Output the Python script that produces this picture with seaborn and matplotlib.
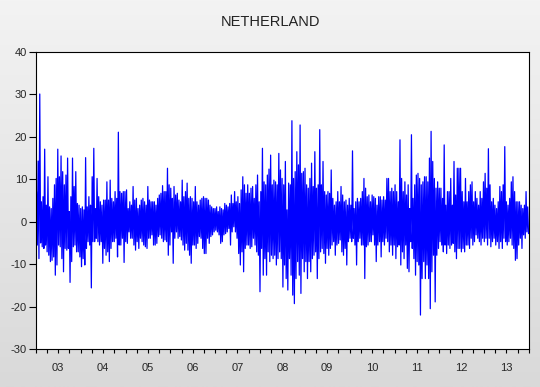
import numpy as np
import pandas as pd
import matplotlib
matplotlib.use('Agg')
import matplotlib.pyplot as plt
from matplotlib.colors import LinearSegmentedColormap
import seaborn as sns

# --- Data (upper / lower swing of each short stretch) ---
title = 'NETHERLAND'
start_date = '2003-01-05'
end_date = '2013-12-28'
year_labels = ['03', '04', '05', '06', '07', '08', '09', '10', '11', '12', '13']
y_ticks = [-30, -20, -10, 0, 10, 20, 30, 40]

highs = [
    7.1, 14.3, 30.1, 4.7, 5.9, 17.1, 3.9, 10.6, 3.5, 3.1, 5.5, 8.7, 10.2, 17.1, 10.6, 15.5, 11.8,
    8.7, 11.0, 15.0, 2.4, 5.9, 15.0, 8.3, 11.8, 4.3, 3.9, 3.1, 3.5, 2.8, 15.1, 3.5, 5.9, 3.9,
    10.6, 17.3, 3.1, 10.2, 5.9, 4.7, 3.9, 5.1, 5.1, 9.4, 5.1, 9.8, 5.5, 4.7, 7.1,
    5.5, 21.1, 7.1, 6.7, 7.1, 7.1, 7.5, 3.1, 4.7, 3.9, 8.3, 5.1, 5.5, 3.1, 3.9, 5.1, 5.5, 4.7,
    3.9, 8.3, 5.1, 4.7, 4.7, 4.7, 3.9, 5.5, 6.3, 6.7, 8.5, 7.1, 7.1, 12.6, 8.7, 7.9, 5.5, 8.3,
    6.3, 6.7, 5.1, 4.7, 9.8, 5.9, 7.1, 9.1, 5.5, 5.9, 5.5, 4.7, 8.3, 4.7, 3.9, 5.1, 5.5, 5.9,
    5.5, 5.5, 5.1, 3.9, 3.5, 3.1, 3.1, 3.5, 2.4, 3.5, 3.1, 2.8, 4.3, 3.9, 3.5, 4.3, 6.3, 4.3,
    7.1, 4.7, 5.9, 4.3, 7.5, 10.6, 8.7, 6.7, 8.7, 6.7, 7.9, 8.3, 5.5, 8.7, 11.0, 4.7, 7.1, 17.3,
    9.4, 8.7, 11.0, 12.4, 15.7, 8.7, 9.8, 9.4, 8.7, 16.1, 12.2, 10.2, 8.7,
    14.2, 2.8, 9.1, 8.7, 23.8, 10.2, 11.8, 16.5, 13.4, 22.8, 11.4, 11.8, 12.6, 8.7, 7.9, 10.2,
    13.8, 8.3, 16.5, 7.9, 8.7, 21.7, 8.7, 14.2, 7.1, 6.3, 7.1, 6.7, 12.2, 5.5, 3.9, 4.7, 7.1,
    4.7, 8.3, 6.3, 4.7, 5.1, 3.9, 5.5, 3.9, 16.7, 3.1, 4.7, 5.5, 4.7, 5.5, 7.1, 10.2, 7.9, 5.9,
    6.3, 4.7, 6.3,
    5.9, 5.5, 3.9, 5.9, 5.9, 5.1, 5.9, 5.1, 10.2, 10.2, 7.1, 7.9, 7.1, 8.7, 7.1, 4.7, 19.3, 10.2,
    7.1, 9.4, 6.3, 8.7, 3.1, 20.5, 5.5, 8.7, 11.0, 11.4, 10.2, 8.7, 9.4, 10.6, 10.6, 9.4, 15.0,
    21.3, 14.2, 10.2, 7.9, 9.4, 7.9, 7.9, 5.5, 18.1, 3.9, 7.1, 7.1, 10.2, 3.9, 14.2, 6.3, 12.6,
    12.6,
    12.6, 7.1, 4.7, 10.2, 4.7, 7.1, 8.7, 9.4, 4.7, 7.1, 5.5, 3.9, 7.1, 5.5, 9.4, 11.4, 7.9, 17.2,
    8.7, 4.7, 5.5, 3.9, 3.1, 4.7, 8.3, 7.1, 8.7, 17.7, 4.7, 3.9, 5.5, 9.4, 10.6, 7.1, 4.7, 4.7,
    4.7, 3.9, 3.1, 3.9, 7.1, 3.5,
]

lows = [
    -5.5, -8.7, -5.0, -5.9, -6.3, -5.5, -7.1, -7.9, -9.4, -9.1, -8.3, -12.6, -10.2, -5.5, -5.9,
    -8.7, -11.8, -6.3, -6.7, -6.3, -14.3, -9.4, -5.9, -5.5, -7.1, -7.1, -8.3, -10.6, -8.7, -10.2,
    -6.3, -4.7, -5.5, -15.6, -4.7, -4.7, -3.9, -4.7, -5.5, -4.7, -9.8, -6.3, -7.9, -7.1, -9.4,
    -6.3, -4.7, -4.7, -3.9,
    -8.3, -5.5, -5.5, -3.9, -9.6, -4.7, -5.1, -2.4, -3.9, -3.9, -5.5, -6.7, -4.7, -6.3, -3.9,
    -4.7, -5.5, -5.9, -6.3, -3.9, -3.9, -3.1, -5.5, -5.5, -5.1, -3.5, -3.1, -3.9, -4.7, -4.3,
    -4.7, -7.9, -5.5, -2.4, -9.8, -3.9, -2.4, -3.9, -3.5, -4.3, -5.5, -6.7, -5.1, -6.7, -7.9,
    -9.8, -5.5, -5.5, -6.3, -5.1, -3.5, -3.9, -6.3, -7.5,
    -7.5, -3.9, -5.1, -3.5, -3.1, -2.4, -2.0, -2.4, -3.1, -5.1, -4.7, -3.1, -2.8, -2.4, -1.6,
    -5.5, -2.4, -1.2, -2.4, -3.9, -7.5, -10.2, -7.1, -11.8, -6.3, -5.5, -5.5, -6.3, -5.9, -3.9,
    -5.5, -7.1, -7.9, -16.5, -6.3, -12.6, -8.7, -12.6, -7.1, -9.4, -7.9, -8.7, -7.9, -10.2,
    -8.7, -7.1, -8.7, -15.4, -10.2,
    -13.4, -16.1, -8.7, -12.6, -17.3, -19.3, -13.4, -9.4, -12.6, -16.9, -8.7, -11.8, -9.4,
    -13.4, -9.4, -11.8, -8.7, -7.9, -7.1, -13.4, -8.7, -7.1, -6.3, -7.5, -9.8, -6.3, -7.9,
    -6.3, -5.5, -4.7, -7.9, -5.5, -5.1, -4.3, -7.1, -7.9, -6.3, -10.2, -4.7, -3.9, -4.7, -3.9,
    -5.5, -10.2, -4.7, -3.9, -5.5, -5.5, -13.4, -5.9, -5.5, -4.7, -4.7, -3.1,
    -5.5, -9.4, -5.5, -4.7, -8.3, -4.7, -5.5, -3.9, -4.7, -7.1, -5.5, -7.9, -5.5, -8.7, -5.9,
    -5.5, -10.2, -7.1, -8.7, -5.5, -11.0, -11.8, -4.7, -6.3, -8.7, -12.6, -9.4, -10.2, -22.0,
    -13.4, -9.4, -13.4, -10.2, -13.4, -20.5, -11.8, -7.9, -18.9, -7.9, -6.3, -4.7, -5.5, -7.1,
    -5.5, -7.5, -5.5, -6.3, -5.5, -5.1, -7.1, -8.7, -6.3, -6.3,
    -7.1, -6.3, -7.1, -5.5, -5.5, -6.3, -3.9, -5.5, -4.7, -3.1, -3.9, -4.7, -5.5, -3.9, -4.7,
    -3.9, -5.5, -3.9, -5.9, -4.7, -3.9, -5.5, -4.7, -6.3, -4.7, -6.3, -3.9, -4.7, -5.5, -4.7,
    -3.9, -5.5, -6.3, -9.1, -8.7, -5.5, -3.9, -6.3, -3.1, -3.9, -2.4, -2.8,
]

n = min(len(highs), len(lows))

# interleave the swings into one series
values = np.empty(2 * n)
values[0::2] = highs[:n]
values[1::2] = lows[:n]
dates = pd.date_range(start_date, end_date, periods=len(values))
df = pd.DataFrame({'date': dates, 'value': values})

# --- Plot ---
sns.set_style('white')
plt.rcParams['font.family'] = ['Liberation Sans', 'DejaVu Sans']

fig = plt.figure(figsize=(5.4, 3.87), dpi=100)

# grey gradient behind everything
bg = fig.add_axes([0, 0, 1, 1], zorder=-10)
grad = np.linspace(0, 1, 256).reshape(-1, 1)
cmap = LinearSegmentedColormap.from_list('bg', ['#f3f3f3', '#d9d9d9'])
bg.imshow(grad, aspect='auto', cmap=cmap, extent=[0, 1, 0, 1], origin='upper')
bg.axis('off')

ax = fig.add_axes([36 / 540, 38 / 387, 493 / 540, 297 / 387])
ax.set_facecolor('white')
sns.lineplot(data=df, x='date', y='value', color='#0000ff', linewidth=0.9,
             estimator=None, sort=False, ax=ax)

ax.set_xlim(pd.Timestamp('2003-01-01'), pd.Timestamp('2014-01-01'))
ax.set_ylim(-30, 40)
ax.set_xlabel('')
ax.set_ylabel('')

ax.set_yticks(y_ticks)
ax.set_yticklabels([str(v) for v in y_ticks])

years = [2000 + int(l) for l in year_labels]
ax.set_xticks(pd.to_datetime([f'{y}-07-01' for y in years]))
ax.set_xticklabels(year_labels)
quarters = pd.date_range('2003-01-01', '2014-01-01', freq='QS')
ax.set_xticks(quarters, minor=True)
ax.xaxis.remove_overlapping_locs = False

ax.tick_params(axis='y', which='major', direction='out', length=5, width=0.8,
               color='black', labelsize=8, pad=1.5, left=True, right=False)
ax.tick_params(axis='x', which='major', length=0, labelsize=8, pad=10)
ax.tick_params(axis='x', which='minor', direction='out', length=3, width=0.8,
               color='black', bottom=True, top=False)

for side in ['left', 'right', 'top', 'bottom']:
    ax.spines[side].set_visible(True)
    ax.spines[side].set_color('black')
    ax.spines[side].set_linewidth(0.8)

fig.text(0.5, 1 - 22 / 387, title, ha='center', va='center', fontsize=10.5, color='#222222')

fig.savefig('out.png', dpi=100)
